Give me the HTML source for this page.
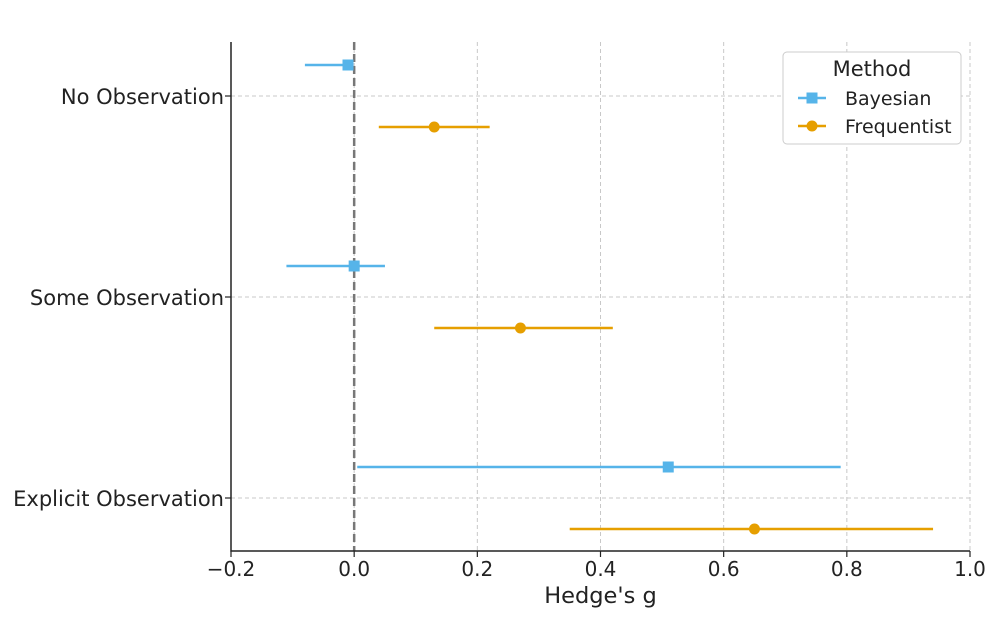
<!DOCTYPE html>
<html><head><meta charset="utf-8"><style>
body{margin:0;background:#fff;}
svg text{font-family:"DejaVu Sans","Liberation Sans",sans-serif;fill:#222;}
</style></head><body>
<svg id="chart" width="1000" height="620" xmlns="http://www.w3.org/2000/svg"></svg>
<script>
const categories = ["No Observation","Some Observation","Explicit Observation"];
const bayesMean = [-0.01, 0.0, 0.51];
const bayesLow = [-0.08, -0.11, 0.005];
const bayesHigh = [-0.003, 0.05, 0.79];
const freqMean = [0.13, 0.27, 0.65];
const freqLow = [0.04, 0.13, 0.35];
const freqHigh = [0.22, 0.42, 0.94];
const xTicks = [-0.2, 0.0, 0.2, 0.4, 0.6, 0.8, 1.0];
const xTickLabels = ["\u22120.2","0.0","0.2","0.4","0.6","0.8","1.0"];

const L=231,R=970,T=42,B=551;
const xs=v=>L+(v+0.2)/1.2*(R-L);
const ys=i=>96+i*201;
const svg=document.getElementById('chart');
const NS='http://www.w3.org/2000/svg';
function mk(tag,attrs,parent){const e=document.createElementNS(NS,tag);for(const k in attrs)e.setAttribute(k,attrs[k]);(parent||svg).appendChild(e);return e;}

xTicks.forEach((t,i)=>{
  if(i>0){const g=mk('line',{x1:xs(t),x2:xs(t),y1:T,y2:B,stroke:'#c8c8c8','stroke-dasharray':'4,3','stroke-width':1});
  
  }
  const tk=mk('line',{x1:xs(t),x2:xs(t),y1:B,y2:B+6,stroke:'#222','stroke-width':1.2});
  
  
  const tl=mk('text',{x:xs(t),y:B+25,'text-anchor':'middle','font-size':20});
  tl.textContent=xTickLabels[i];
  
  
});
categories.forEach((c,i)=>{
  const g=mk('line',{x1:L,x2:R,y1:ys(i),y2:ys(i),stroke:'#c8c8c8','stroke-dasharray':'4,3','stroke-width':1});
  
  
  const tk=mk('line',{x1:L-6,x2:L,y1:ys(i),y2:ys(i),stroke:'#222','stroke-width':1.2});
  
  
  const tl=mk('text',{x:L-7,y:ys(i)+8,'text-anchor':'end','font-size':21});
  tl.textContent=c;
  
  
});
const z=mk('line',{x1:xs(0),x2:xs(0),y1:T,y2:B,stroke:'#777','stroke-dasharray':'8,4','stroke-width':2.5});


const ax=mk('path',{d:`M${L},${T}V${B}H${R}`,fill:'none',stroke:'#222','stroke-width':1.5});



const blue='#56b4e9',orange='#e69f00';
categories.forEach((c,i)=>{
  const yb=ys(i)-31, yf=ys(i)+31;
  const lb=mk('line',{x1:xs(bayesLow[i]),x2:xs(bayesHigh[i]),y1:yb,y2:yb,stroke:blue,'stroke-width':2.5});
  
  
  const pb=mk('rect',{x:xs(bayesMean[i])-5.5,y:yb-5.5,width:11,height:11,fill:blue});
  
  
  const lf=mk('line',{x1:xs(freqLow[i]),x2:xs(freqHigh[i]),y1:yf,y2:yf,stroke:orange,'stroke-width':2.5});
  
  
  const pf=mk('circle',{cx:xs(freqMean[i]),cy:yf,r:5.5,fill:orange});
  
  
});

const xt=mk('text',{x:(L+R)/2,y:603,'text-anchor':'middle','font-size':22.5});
xt.textContent="Hedge's g";



const lg=mk('g',{});


mk('rect',{x:783,y:52,width:178,height:92,rx:4,fill:'#fff',stroke:'#ccc'},lg);
const lt=mk('text',{x:872,y:76,'text-anchor':'middle','font-size':21},lg);
lt.textContent='Method';


[['Bayesian',blue,98,'rect'],['Frequentist',orange,126,'circle']].forEach(([n,col,y,sh])=>{
  const e=mk('g',{},lg);
  
  
  mk('line',{x1:798,x2:826,y1:y,y2:y,stroke:col,'stroke-width':2.5},e);
  if(sh==='rect')mk('rect',{x:806.5,y:y-5.5,width:11,height:11,fill:col},e);
  else mk('circle',{cx:812,cy:y,r:5.5,fill:col},e);
  const t=mk('text',{x:845,y:y+7,'font-size':19},e);
  t.textContent=n;
});
</script>
</body></html>
